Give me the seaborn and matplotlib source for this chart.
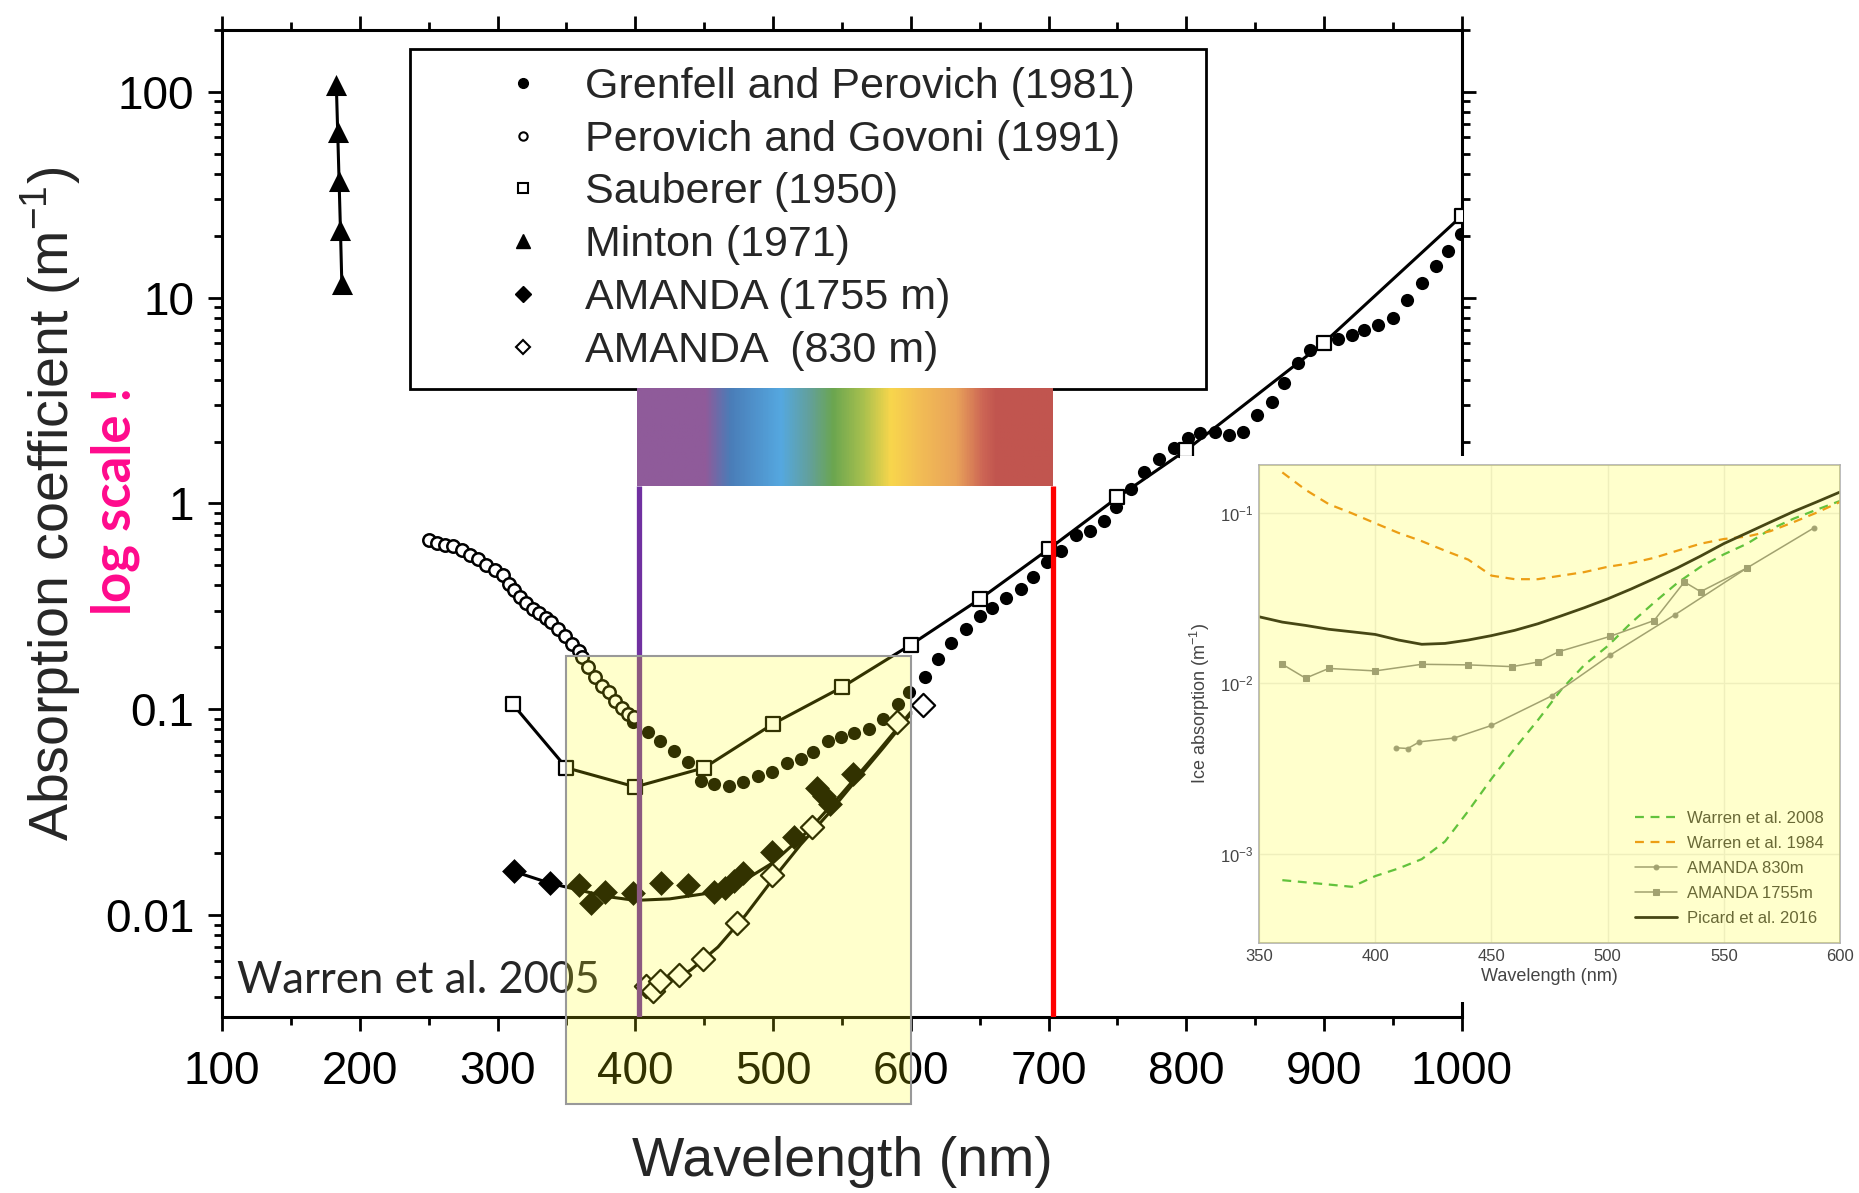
import numpy as np
import matplotlib
matplotlib.use("Agg")
import matplotlib.pyplot as plt
import seaborn as sns
from matplotlib.lines import Line2D
from matplotlib.patches import Rectangle
from matplotlib.colors import LinearSegmentedColormap
from matplotlib import transforms
from matplotlib.ticker import FuncFormatter, LogLocator, MultipleLocator, NullFormatter, NullLocator

# ---------------- main chart data (Warren et al. 2005) ----------------
grenfell_nm = [398, 409, 418, 428, 438, 448, 457, 468, 478, 489, 499, 510, 520, 529, 540, 549,
               559, 570, 580, 591, 599, 610, 620, 629, 640, 650, 659, 669, 680, 689, 699, 709,
               720, 730, 740, 749, 760, 769, 780, 791, 801, 810, 821, 831, 841, 851, 862, 871,
               881, 890, 900, 910, 920, 929, 939, 950, 960, 971, 981, 990, 999]
grenfell_k = [0.087, 0.078, 0.070, 0.0625, 0.0553, 0.0448, 0.0432, 0.0424, 0.0444, 0.0474, 0.0496,
              0.0546, 0.0574, 0.0618, 0.0698, 0.0733, 0.0766, 0.0801, 0.0895, 0.106, 0.1215, 0.143,
              0.176, 0.211, 0.245, 0.284, 0.312, 0.349, 0.384, 0.437, 0.518, 0.59, 0.699, 0.738,
              0.826, 0.96, 1.18, 1.42, 1.65, 1.85, 2.07, 2.19, 2.23, 2.15, 2.23, 2.69, 3.12, 3.84,
              4.8, 5.57, 6.0, 6.3, 6.6, 6.98, 7.38, 7.96, 9.77, 11.8, 14.2, 16.8, 20.3]

perovich_nm = [250, 256, 262, 268, 274, 280, 286, 292, 298, 304, 308, 312, 316, 321, 326, 330,
               335, 339, 344, 349, 354, 359, 361, 366, 371, 376, 381, 385, 390, 395, 399]
perovich_k = [0.662, 0.645, 0.631, 0.619, 0.592, 0.565, 0.536, 0.505, 0.477, 0.448, 0.408, 0.379,
              0.351, 0.329, 0.308, 0.295, 0.279, 0.266, 0.246, 0.226, 0.208, 0.193, 0.179, 0.160,
              0.143, 0.130, 0.121, 0.110, 0.102, 0.095, 0.0915]

sauberer_nm = [311, 350, 400, 450, 500, 550, 600, 650, 700, 750, 800, 900, 1000]
sauberer_k = [0.106, 0.052, 0.042, 0.052, 0.085, 0.128, 0.206, 0.343, 0.60, 1.07, 1.82, 6.05, 25.0]

minton_nm = [183, 184, 185, 186, 187]
minton_k = [108, 64, 37, 21.4, 11.7]

a1755_nm = [312, 338, 359, 368, 378, 398, 419, 438, 457, 465, 472, 478, 499, 515, 532, 537, 541, 558]
a1755_k = [0.0163, 0.0143, 0.0140, 0.0115, 0.0130, 0.0128, 0.0143, 0.0140, 0.0130, 0.0135, 0.0146,
           0.0160, 0.0203, 0.0239, 0.0417, 0.0380, 0.0347, 0.0483]
a1755_fit_nm = [312, 338, 360, 380, 400, 425, 450, 475, 500, 525, 550, 575, 600]
a1755_fit_k = [0.0163, 0.0143, 0.0132, 0.0123, 0.0118, 0.0120, 0.0127, 0.0142, 0.0180, 0.0255,
               0.0390, 0.0610, 0.0970]

a830_nm = [408, 413, 418, 432, 449, 474, 499, 528, 590, 609]
a830_k = [0.00455, 0.0043, 0.0048, 0.0051, 0.0061, 0.0092, 0.0157, 0.0267, 0.087, 0.105]
a830_fit_nm = [408, 420, 440, 460, 480, 500, 520, 540, 560, 580, 600]
a830_fit_k = [0.0043, 0.0046, 0.0054, 0.0070, 0.0100, 0.0150, 0.0220, 0.031, 0.045, 0.065, 0.095]

legend_labels = ["Grenfell and Perovich (1981)", "Perovich and Govoni (1991)", "Sauberer (1950)",
                 "Minton (1971)", "AMANDA (1755 m)", "AMANDA  (830 m)"]

# visible spectrum bar
spec_nm = [401, 450, 468, 505, 526, 543, 565, 585, 606, 633, 652, 662, 703]
spec_colors = ["#8F5B9A", "#8F5B9A", "#4A7DB8", "#55A8E0", "#63A09A", "#6BA650", "#A8C04E",
               "#F8D64C", "#F2BD55", "#E9A35A", "#CD6655", "#C1554F", "#C1554F"]

# ---------------- inset data ----------------
w08_nm = [360, 370, 380, 390, 400, 410, 420, 430, 440, 450, 460, 470, 480, 490, 500, 510, 520,
          530, 540, 550, 560, 570, 580, 590, 600]
w08_k = [0.00070, 0.00068, 0.00066, 0.00064, 0.00074, 0.00082, 0.00093, 0.00118, 0.00178, 0.00275,
         0.00414, 0.00608, 0.00915, 0.0128, 0.0165, 0.0225, 0.0297, 0.0387, 0.0481, 0.0569, 0.0657,
         0.0797, 0.0921, 0.104, 0.117]
w84_nm = [360, 370, 380, 390, 400, 410, 420, 430, 440, 450, 460, 470, 480, 490, 500, 510, 520,
          530, 540, 550, 560, 570, 580, 590, 600]
w84_k = [0.172, 0.136, 0.112, 0.099, 0.0866, 0.076, 0.068, 0.0598, 0.053, 0.0427, 0.0407, 0.0407,
         0.0427, 0.0448, 0.0481, 0.0505, 0.0543, 0.0598, 0.0657, 0.070, 0.0724, 0.0778, 0.0879,
         0.100, 0.1155]
picard_nm = [350, 360, 370, 380, 390, 400, 410, 420, 430, 440, 450, 460, 470, 480, 490, 500, 510,
             520, 530, 540, 550, 560, 570, 580, 590, 600]
picard_k = [0.0245, 0.0228, 0.0218, 0.0207, 0.0200, 0.0193, 0.0179, 0.0169, 0.0171, 0.0179, 0.0190,
            0.0204, 0.0223, 0.0248, 0.0277, 0.0312, 0.0356, 0.0410, 0.0474, 0.0556, 0.0658, 0.0760,
            0.0879, 0.1014, 0.1155, 0.132]
ins830_nm = [409, 414, 419, 434, 450, 476, 501, 529, 560, 589]
ins830_k = [0.00418, 0.00414, 0.00453, 0.00477, 0.00565, 0.00843, 0.01459, 0.0252, 0.0474, 0.0817]
ins1755_nm = [360, 370, 380, 400, 420, 440, 459, 470, 479, 501, 520, 533, 540, 560]
ins1755_k = [0.0129, 0.0107, 0.0122, 0.0118, 0.0129, 0.0128, 0.0125, 0.0133, 0.0153, 0.0188,
             0.0233, 0.0392, 0.0344, 0.0474]

# ---------------- style ----------------
sns.set_theme(style="ticks")
plt.rcParams["font.family"] = ["Liberation Sans", "DejaVu Sans"]
plt.rcParams["mathtext.fontset"] = "custom"
plt.rcParams["mathtext.rm"] = "Liberation Sans"
plt.rcParams["axes.unicode_minus"] = False

fig = plt.figure(figsize=(18.59, 11.93), dpi=100)
ax = fig.add_axes([0.1194, 0.1475, 0.667, 0.8275])
ax.set_yscale("log")

# spectrum bar
grad = np.linspace(0, 1, 600).reshape(1, -1)
spec_cmap = LinearSegmentedColormap.from_list(
    "spec", [((n - spec_nm[0]) / (spec_nm[-1] - spec_nm[0]), c) for n, c in zip(spec_nm, spec_colors)])
ax.imshow(grad, cmap=spec_cmap, aspect="auto", interpolation="bilinear",
          extent=(spec_nm[0], spec_nm[-1], 1.21, 3.65), zorder=6)

ax.vlines([403], 0.0032, 1.21, colors="#7030A0", lw=3.8, zorder=4)
ax.vlines([703], 0.0032, 1.21, colors="#FF0000", lw=3.8, zorder=4)

# fitted curves and connecting lines
sns.lineplot(x=sauberer_nm, y=sauberer_k, ax=ax, color="black", lw=2.2, zorder=2)
sns.lineplot(x=a1755_fit_nm, y=a1755_fit_k, ax=ax, color="black", lw=2.2, zorder=2)
sns.lineplot(x=a830_fit_nm, y=a830_fit_k, ax=ax, color="black", lw=2.2, zorder=2)
sns.lineplot(x=minton_nm, y=minton_k, ax=ax, color="black", lw=2.2, estimator=None, sort=False, zorder=2)

# data points
sns.scatterplot(x=grenfell_nm, y=grenfell_k, ax=ax, marker="o", s=90, color="black",
                edgecolor="black", linewidth=0, legend=False, zorder=3)
sns.scatterplot(x=perovich_nm, y=perovich_k, ax=ax, marker="o", s=80, color="white",
                edgecolor="black", linewidth=1.8, legend=False, zorder=3)
sns.scatterplot(x=sauberer_nm, y=sauberer_k, ax=ax, marker="s", s=115, color="white",
                edgecolor="black", linewidth=1.6, legend=False, zorder=3)
sns.scatterplot(x=minton_nm, y=minton_k, ax=ax, marker="^", s=230, color="black",
                edgecolor="black", linewidth=0, legend=False, zorder=3)
sns.scatterplot(x=a1755_nm, y=a1755_k, ax=ax, marker="D", s=160, color="black",
                edgecolor="black", linewidth=0, legend=False, zorder=3)
sns.scatterplot(x=a830_nm, y=a830_k, ax=ax, marker="D", s=140, color="white",
                edgecolor="black", linewidth=1.6, legend=False, zorder=3)

ax.set_xlim(100, 1000)
ax.set_ylim(0.0032, 200)
ax.xaxis.set_major_locator(MultipleLocator(100))
ax.xaxis.set_minor_locator(MultipleLocator(50))
ax.set_yticks([0.01, 0.1, 1, 10, 100])
ax.yaxis.set_minor_locator(LogLocator(base=10, subs=np.arange(2, 10), numticks=20))
ax.yaxis.set_major_formatter(FuncFormatter(lambda v, p: f"{v:g}"))
ax.yaxis.set_minor_formatter(NullFormatter())

for sp in ax.spines.values():
    sp.set_visible(True)
    sp.set_color("black")
    sp.set_linewidth(2.2)
ax.tick_params(which="both", direction="out", top=True, right=True, width=2, colors="black")
ax.tick_params(which="major", length=10, labelsize=33)
ax.tick_params(axis="x", which="major", pad=14)
ax.tick_params(axis="y", which="major", pad=10)
ax.tick_params(which="minor", length=5.5)

ax.set_xlabel("Wavelength (nm)", fontsize=40)
ax.set_ylabel("Absorption coefficient (m$^{\\mathdefault{-1}}$)", fontsize=40)
ax.xaxis.set_label_coords(0.5, -0.121)
ax.yaxis.set_label_coords(-0.112, 0.52)

handles = [
    Line2D([], [], ls="none", marker="o", ms=7, color="black"),
    Line2D([], [], ls="none", marker="o", ms=6, mfc="white", mec="black", mew=1.5),
    Line2D([], [], ls="none", marker="s", ms=7, mfc="white", mec="black", mew=1.5),
    Line2D([], [], ls="none", marker="^", ms=10, color="black"),
    Line2D([], [], ls="none", marker="D", ms=8, color="black"),
    Line2D([], [], ls="none", marker="D", ms=7, mfc="white", mec="black", mew=1.5),
]
leg = ax.legend(handles, legend_labels, loc="upper left", bbox_to_anchor=(0.152, 0.634, 0.642, 0.347),
                mode="expand", borderaxespad=0, fontsize=31, frameon=True, fancybox=False,
                edgecolor="black", framealpha=1, borderpad=0.42, labelspacing=0.3,
                handlelength=4.4, handletextpad=-0.77)
leg.get_frame().set_linewidth(2)
leg.set_zorder(5)

ax.text(111, 0.0048, "Warren et al. 2005", fontsize=31.5, family="Lato", ha="left", va="center", zorder=4)
fig.text(0.062, 0.58, "log scale !", rotation=90, color="#FF0A8C", fontweight="bold",
         family="Lato", fontsize=38, ha="center", va="center")

# white backdrop for the inset
fig.add_artist(Rectangle((0.635, 0.160), 0.365, 0.458, transform=fig.transFigure,
                         facecolor="white", edgecolor="none", zorder=1))

# yellow highlight box over 350-600 nm
blend = transforms.blended_transform_factory(ax.transData, fig.transFigure)
fig.add_artist(Rectangle((350, 0.0748), 250, 0.3757, transform=blend, facecolor=(1, 1, 0, 0.2),
                         edgecolor="#999999", lw=1.5, zorder=3))

# ---------------- inset ----------------
ins = fig.add_axes([0.6773, 0.2096, 0.3125, 0.4006])
ins.set_zorder(2)
ins.set_facecolor("white")
ins.set_yscale("log")
sns.lineplot(x=w08_nm, y=w08_k, ax=ins, color="#3CB44B", lw=1.6, linestyle=(0, (4, 3)),
             label="Warren et al. 2008")
sns.lineplot(x=w84_nm, y=w84_k, ax=ins, color="#E8861A", lw=1.6, linestyle=(0, (4, 3)),
             label="Warren et al. 1984")
sns.lineplot(x=ins830_nm, y=ins830_k, ax=ins, color="#8c8c8c", lw=1.1, marker="o", ms=3.5,
             mec="#8c8c8c", mfc="#8c8c8c", label="AMANDA 830m")
sns.lineplot(x=ins1755_nm, y=ins1755_k, ax=ins, color="#8c8c8c", lw=1.1, marker="s", ms=4.5,
             mec="#8c8c8c", mfc="#8c8c8c", label="AMANDA 1755m")
sns.lineplot(x=picard_nm, y=picard_k, ax=ins, color="#1a1a1a", lw=2.0, label="Picard et al. 2016")

ins.set_xlim(350, 600)
ins.set_ylim(3e-4, 0.19)
ins.set_xticks([350, 400, 450, 500, 550, 600])
ins.set_yticks([1e-3, 1e-2, 1e-1])
ins.yaxis.set_minor_locator(NullLocator())
ins.grid(True, which="major", color="#ececec", lw=1)
ins.tick_params(length=0, labelsize=12, labelcolor="#444444", pad=4)
for sp in ins.spines.values():
    sp.set_visible(True)
    sp.set_color("#b0b0b0")
    sp.set_linewidth(1.2)
ins.set_xlabel("Wavelength (nm)", fontsize=13, color="#444444", labelpad=3)
ins.set_ylabel("Ice absorption (m$^{-1}$)", fontsize=13, color="#444444", labelpad=6)
ileg = ins.legend(loc="lower right", frameon=False, fontsize=12, handlelength=2.5,
                  handletextpad=0.6, labelspacing=0.6, borderaxespad=0.6)
for t in ileg.get_texts():
    t.set_color("#444444")
ins.add_patch(Rectangle((0, 0), 1, 1, transform=ins.transAxes, facecolor="yellow", alpha=0.2,
                        edgecolor="none", zorder=10))

fig.savefig("out.png", dpi=100)
